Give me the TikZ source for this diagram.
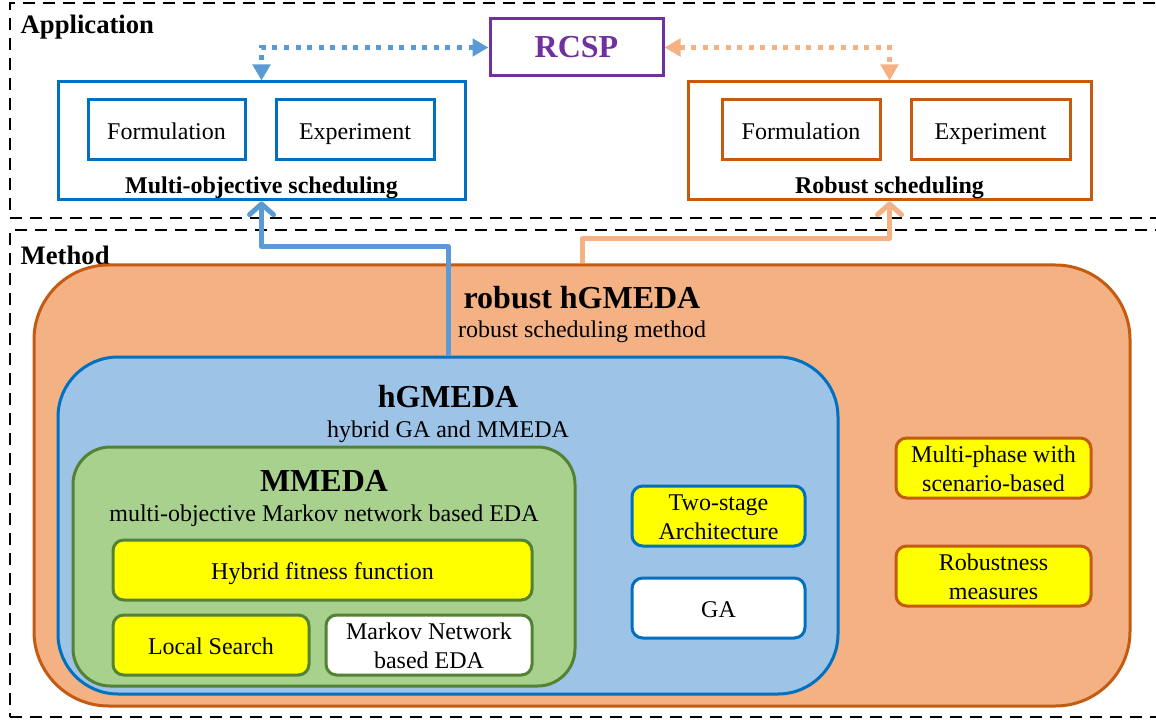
\documentclass[tikz,border=0pt]{standalone}
\usepackage{fontspec}
\setmainfont{Liberation Serif}
\usetikzlibrary{fit,arrows.meta}

\definecolor{bluedark}{RGB}{0,112,192}
\definecolor{bluelight}{RGB}{91,155,213}
\definecolor{bluefill}{RGB}{157,195,230}
\definecolor{orangedark}{RGB}{197,90,17}
\definecolor{orangelight}{RGB}{244,177,131}
\definecolor{greenfill}{RGB}{169,209,142}
\definecolor{greendark}{RGB}{84,130,53}
\definecolor{purpledark}{RGB}{112,48,160}
\definecolor{boxyellow}{RGB}{255,255,0}

\tikzset{
  txt/.style={font=\fontsize{18}{22}\selectfont, align=center},
  headtxt/.style={font=\bfseries\fontsize{24}{28}\selectfont},
  boldtxt/.style={font=\bfseries\fontsize{18}{22}\selectfont},
  frametitle/.style={font=\bfseries\fontsize{20}{24}\selectfont, anchor=west},
  framebox/.style={draw=black, line width=1.5pt, dash pattern=on 9pt off 6pt, inner sep=0pt},
  pbox/.style={draw, line width=2.25pt, inner sep=0pt},
  smallbox/.style={pbox, rounded corners=8pt},
  % text centred inside a fitted box (struts keep the baselines even)
  intext/.style={label={[txt, inner sep=0pt, yshift=-2.5pt]center:\strut #1}},
  dotlink/.style={line width=3.75pt, dash pattern=on 3.75pt off 4.9pt,
    {Triangle[length=12pt,width=13pt]}-{Triangle[length=12pt,width=13pt]}},
  thicklink/.style={line width=3.75pt, line join=round,
    -{Straight Barb[length=8pt,width=18pt,line cap=round,line join=round]}},
}

\begin{document}
\begin{tikzpicture}[x=0.75pt,y=-0.75pt]
\useasboundingbox (0,0) rectangle (1156,720);
\clip (0,0) rectangle (1156,720);

% outer dashed frames
\node[framebox, fit={(10,3) (1175,218)}] (appframe) {};
\node[framebox, fit={(10,230) (1175,717)}] (methframe) {};
\node[frametitle] (apptitle) at (16,27) {Application};
\node[frametitle] (methtitle) at (16,255) {Method};

% application layer
\node[pbox, draw=purpledark, fit={(490,19) (663,76)}] (rcsp) {};
\node[headtxt, text=purpledark] (rcsptxt) at (rcsp.center) {RCSP};

\node[pbox, draw=bluedark, fit={(58,82) (465,200)}] (mo) {};
\node[pbox, draw=bluedark, intext=Formulation, fit={(88,100) (245,160)}] (moform) {};
\node[pbox, draw=bluedark, intext=Experiment, fit={(276,100) (434,160)}] (moexp) {};
\node[boldtxt] (motxt) at (261.5,188) {Multi-objective scheduling};

\node[pbox, draw=orangedark, fit={(688,82) (1091,200)}] (rs) {};
\node[pbox, draw=orangedark, intext=Formulation, fit={(722,100) (880,160)}] (rsform) {};
\node[pbox, draw=orangedark, intext=Experiment, fit={(911,100) (1070,160)}] (rsexp) {};
\node[boldtxt] (rstxt) at (889.5,188) {Robust scheduling};

% method layer
\node[pbox, draw=orangedark, fill=orangelight, rounded corners=56pt, fit={(34,265) (1130,706)}] (rh) {};
\node[headtxt] (rhtitle) at (582,298) {robust hGMEDA};
\node[txt] (rhsub) at (582,332) {robust scheduling method};

\node[pbox, draw=bluedark, fill=bluefill, rounded corners=45pt, fit={(58,357) (838,694)}] (hg) {};
\node[headtxt] (hgtitle) at (448,397) {hGMEDA};
\node[txt] (hgsub) at (448,432) {hybrid GA and MMEDA};

\node[pbox, draw=greendark, fill=greenfill, rounded corners=28pt, fit={(73,447) (575,686)}] (mm) {};
\node[headtxt] (mmtitle) at (324,481) {MMEDA};
\node[txt] (mmsub) at (324,516) {multi-objective Markov network based EDA};

\node[smallbox, draw=greendark, fill=boxyellow, intext=Hybrid fitness function, fit={(113,540) (532,600)}] (hff) {};
\node[smallbox, draw=greendark, fill=boxyellow, intext=Local Search, fit={(113,615) (309,675)}] (ls) {};
\node[smallbox, draw=greendark, fill=white, intext={Markov Network\\\strut based EDA}, fit={(326,615) (532,675)}] (mn) {};

\node[smallbox, draw=bluedark, fill=boxyellow, intext={Two-stage\\\strut Architecture}, fit={(632,486) (805,546)}] (ts) {};
\node[smallbox, draw=bluedark, fill=white, intext=GA, fit={(632,578) (805,638)}] (ga) {};

\node[smallbox, draw=orangedark, fill=boxyellow, intext={Multi-phase with\\\strut scenario-based}, fit={(896,438) (1091,498)}] (mp) {};
\node[smallbox, draw=orangedark, fill=boxyellow, intext={Robustness\\\strut measures}, fit={(896,546) (1091,606)}] (rm) {};

% links between the layers
\draw[dotlink, draw=bluelight] (rcsp.west) -| (mo.north);
\draw[dotlink, draw=orangelight] (rcsp.east) -| (rs.north);
\draw[thicklink, draw=bluelight] (hg.north) -- ++(0,-109) -| (mo.south);
\draw[thicklink, draw=orangelight] (rh.north) -- ++(0,-25) -| (rs.south);
\end{tikzpicture}
\end{document}
